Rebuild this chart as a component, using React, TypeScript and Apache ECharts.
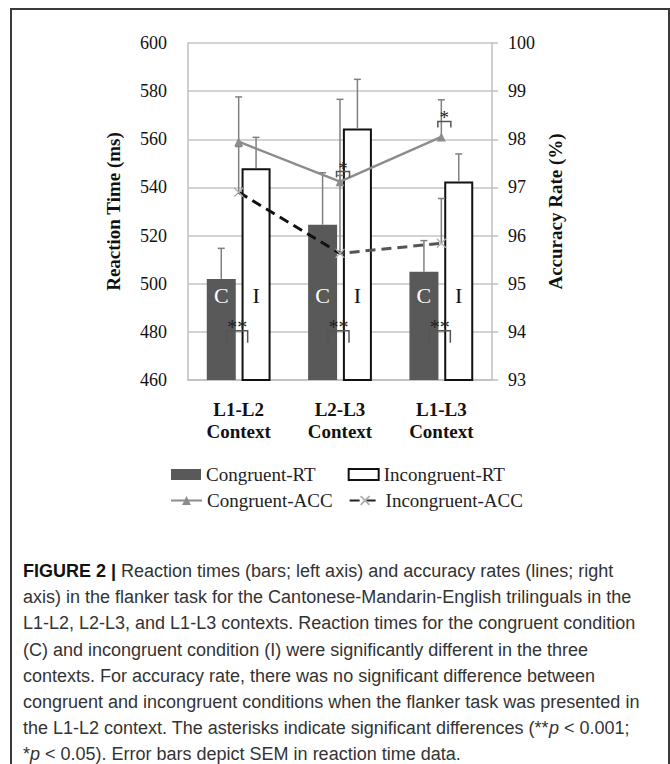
import React, { useEffect, useRef } from 'react';
import * as echarts from 'echarts';

// ---------- data ----------
const categories = ['L1-L2\nContext', 'L2-L3\nContext', 'L1-L3\nContext'];
const congruentRT = [502, 524.5, 505];
const incongruentRT = [548, 564.5, 542.5];
const congruentRTSem = [12.7, 21.6, 12.9];
const incongruentRTSem = [12.8, 20.4, 11.4];
const congruentACC = [97.95, 97.12, 98.05];
const incongruentACC = [96.9, 95.63, 95.84];
const congruentACCErr = [0.93, 1.71, 0.77];
const incongruentACCErr = [0.95, 1.62, 0.93];
const rtSig = ['**', '**', '**'];
const rtSigLevel = [480.5, 480.5, 480.5];
const accSig = ['', '*', '*'];
const accSigLevel = [0, 97.33, 98.37];
const condLabelLevel = 495;
const condLabels = ['C', 'I'];

const captionLines = [
  '{b|FIGURE 2 |} Reaction times (bars; left axis) and accuracy rates (lines; right',
  'axis) in the flanker task for the Cantonese-Mandarin-English trilinguals in the',
  'L1-L2, L2-L3, and L1-L3 contexts. Reaction times for the congruent condition',
  '(C) and incongruent condition (I) were significantly different in the three',
  'contexts. For accuracy rate, there was no significant difference between',
  'congruent and incongruent conditions when the flanker task was presented in',
  'the L1-L2 context. The asterisks indicate significant differences (**{i|p} < 0.001;',
  '*{i|p} < 0.05). Error bars depict SEM in reaction time data.',
];

// ---------- style constants ----------
const SERIF = '"Liberation Serif", "Times New Roman", serif';
const SANS = '"Liberation Sans", Arial, sans-serif';
const CAP_SIZE = 18;
const BAR_W = 29;
const BAR_GAP = 0.2;
const BAR_OFF = (BAR_W * (1 + BAR_GAP)) / 2;
const ERR_COLOR = '#808080';

function errorBars(values: number[], errs: number[], yAxisIndex: number, sign: number) {
  return {
    type: 'custom',
    yAxisIndex,
    silent: true,
    z: 6,
    data: values.map((v, i) => [i, v, v + errs[i]]),
    renderItem: (params: any, api: any) => {
      const i = api.value(0);
      const p0 = api.coord([i, api.value(1)]);
      const p1 = api.coord([i, api.value(2)]);
      const x = p0[0] + sign * BAR_OFF;
      const st = { stroke: ERR_COLOR, lineWidth: 1.5 };
      return {
        type: 'group',
        children: [
          { type: 'line', shape: { x1: x, y1: p0[1], x2: x, y2: p1[1] }, style: st },
          { type: 'line', shape: { x1: x - 3.5, y1: p1[1], x2: x + 3.5, y2: p1[1] }, style: st },
        ],
      };
    },
  };
}

function bracketGroup(cx: number, y: number, halfW: number, h: number, txt: string, fontSize: number) {
  return {
    type: 'group',
    children: [
      {
        type: 'polyline',
        shape: { points: [[cx - halfW, y + h], [cx - halfW, y], [cx + halfW, y], [cx + halfW, y + h]] },
        style: { stroke: '#555', lineWidth: 1.5, fill: 'none' },
      },
      {
        type: 'text',
        style: {
          x: cx, y: y + 6, text: txt, align: 'center', verticalAlign: 'bottom',
          font: `${fontSize}px ${SERIF}`, fill: '#222',
        },
      },
    ],
  };
}

export default function App() {
  const ref = useRef<HTMLDivElement>(null);
  useEffect(() => {
    if (!ref.current) return;
    const chart = echarts.init(ref.current, null, { renderer: 'svg' });

    const iaColor = new echarts.graphic.LinearGradient(0, 0, 1, 0, [
      { offset: 0, color: '#111' },
      { offset: 0.5, color: '#111' },
      { offset: 0.5, color: '#555' },
      { offset: 1, color: '#555' },
    ]);

    const option: any = {
      animation: false,
      backgroundColor: '#fff',
      grid: { left: 188, right: 178, top: 43, bottom: 384, containLabel: false },
      legend: [
        {
          data: ['Congruent-RT', 'Incongruent-RT'],
          left: 166, top: 460, icon: 'rect', itemWidth: 30, itemHeight: 11, itemGap: 32,
          textStyle: { fontFamily: SERIF, fontSize: 19, color: '#222' },
        },
        {
          data: ['Congruent-ACC', { name: 'Incongruent-ACC', lineStyle: { color: '#222' } }],
          left: 165, top: 486, itemWidth: 31, itemHeight: 11, itemGap: 16,
          textStyle: { fontFamily: SERIF, fontSize: 19, color: '#222' },
        },
      ],
      xAxis: {
        type: 'category',
        data: categories,
        axisLine: { lineStyle: { color: '#bfbfbf', width: 1.5 } },
        axisTick: { show: false },
        axisLabel: {
          margin: 18, fontFamily: SERIF, fontSize: 19, fontWeight: 'bold', color: '#111', lineHeight: 22,
        },
      },
      yAxis: [
        {
          type: 'value', min: 460, max: 600, interval: 20,
          name: 'Reaction Time (ms)', nameLocation: 'middle', nameGap: 65,
          nameTextStyle: { fontFamily: SERIF, fontSize: 19, fontWeight: 'bold', color: '#111' },
          axisLine: { show: true, lineStyle: { color: '#bfbfbf', width: 1.5 } },
          axisTick: { show: false },
          splitLine: { lineStyle: { color: '#c4c4c4', width: 1.5 } },
          axisLabel: { margin: 21, fontFamily: SERIF, fontSize: 18, color: '#111' },
        },
        {
          type: 'value', min: 93, max: 100, interval: 1, position: 'right',
          name: 'Accuracy Rate (%)', nameLocation: 'middle', nameGap: 54,
          nameTextStyle: { fontFamily: SERIF, fontSize: 19, fontWeight: 'bold', color: '#111' },
          axisLine: { show: true, lineStyle: { color: '#bfbfbf', width: 1.5 } },
          axisTick: { show: true, length: 6, lineStyle: { color: '#bfbfbf', width: 1.5 } },
          splitLine: { show: false },
          axisLabel: { margin: 16, fontFamily: SERIF, fontSize: 18, color: '#111' },
        },
      ],
      series: [
        {
          name: 'Congruent-RT', type: 'bar', data: congruentRT, barWidth: BAR_W, barGap: `${BAR_GAP * 100}%`,
          itemStyle: { color: '#595959' },
        },
        {
          name: 'Incongruent-RT', type: 'bar', data: incongruentRT, barWidth: BAR_W,
          itemStyle: { color: '#fff', borderColor: '#111', borderWidth: 2 },
        },
        errorBars(congruentRT, congruentRTSem, 0, -1),
        errorBars(incongruentRT, incongruentRTSem, 0, 1),
        errorBars(congruentACC, congruentACCErr, 1, 0),
        errorBars(incongruentACC, incongruentACCErr, 1, 0),
        {
          name: 'Congruent-ACC', type: 'line', yAxisIndex: 1, data: congruentACC, z: 7,
          symbol: 'triangle', symbolSize: 9,
          lineStyle: { color: '#8c8c8c', width: 2.5 },
          itemStyle: { color: '#8c8c8c' },
        },
        {
          name: 'Incongruent-ACC', type: 'line', yAxisIndex: 1, data: incongruentACC, z: 7,
          symbol: 'path://M0,0L10,10M10,0L0,10', symbolSize: 9,
          lineStyle: { color: iaColor, width: 3, type: [10, 6] },
          itemStyle: { color: '#b0b0b0', borderColor: '#b0b0b0', borderWidth: 1.3 },
        },
        {
          type: 'custom', yAxisIndex: 0, silent: true, z: 8,
          data: rtSig.map((s, i) => [i, rtSigLevel[i], condLabelLevel]),
          renderItem: (params: any, api: any) => {
            const i = api.value(0);
            const pb = api.coord([i, api.value(1)]);
            const pl = api.coord([i, api.value(2)]);
            return {
              type: 'group',
              children: [
                bracketGroup(pb[0] - 1.5, pb[1], 10.5, 12, rtSig[params.dataIndex], 20),
                {
                  type: 'text',
                  style: {
                    x: pl[0] - BAR_OFF, y: pl[1], text: condLabels[0], align: 'center', verticalAlign: 'middle',
                    font: `22px ${SERIF}`, fill: '#fff',
                  },
                },
                {
                  type: 'text',
                  style: {
                    x: pl[0] + BAR_OFF, y: pl[1], text: condLabels[1], align: 'center', verticalAlign: 'middle',
                    font: `22px ${SERIF}`, fill: '#111',
                  },
                },
              ],
            };
          },
        },
        {
          type: 'custom', yAxisIndex: 1, silent: true, z: 8,
          data: accSig.map((s, i) => [i, accSigLevel[i]]),
          renderItem: (params: any, api: any) => {
            const s = accSig[params.dataIndex];
            if (!s) return null;
            const p = api.coord([api.value(0), api.value(1)]);
            return bracketGroup(p[0] + 3, p[1], 6.5, 6, s, 19);
          },
        },
      ],
      graphic: [
        {
          type: 'rect', silent: true,
          shape: { x: 11, y: 9, width: 658, height: 800 },
          style: { fill: 'none', stroke: '#3a3a3a', lineWidth: 2 },
        },
        ...captionLines.map((t, k) => ({
          type: 'text', silent: true,
          style: {
            x: 23, y: 571 + k * 26.2, text: t, verticalAlign: 'middle',
            font: `${CAP_SIZE}px ${SANS}`, fill: '#333',
            rich: {
              b: { fontFamily: SANS, fontSize: CAP_SIZE, fontWeight: 'bold', fill: '#111' },
              i: { fontFamily: SANS, fontSize: CAP_SIZE, fontStyle: 'italic', fill: '#333' },
            },
          },
        })),
      ],
    };
    chart.setOption(option);
    return () => chart.dispose();
  }, []);
  return (
    <div
      ref={ref}
      style={{ position: 'absolute', left: 0, top: 0, width: 670, height: 764, background: '#fff' }}
    />
  );
}
